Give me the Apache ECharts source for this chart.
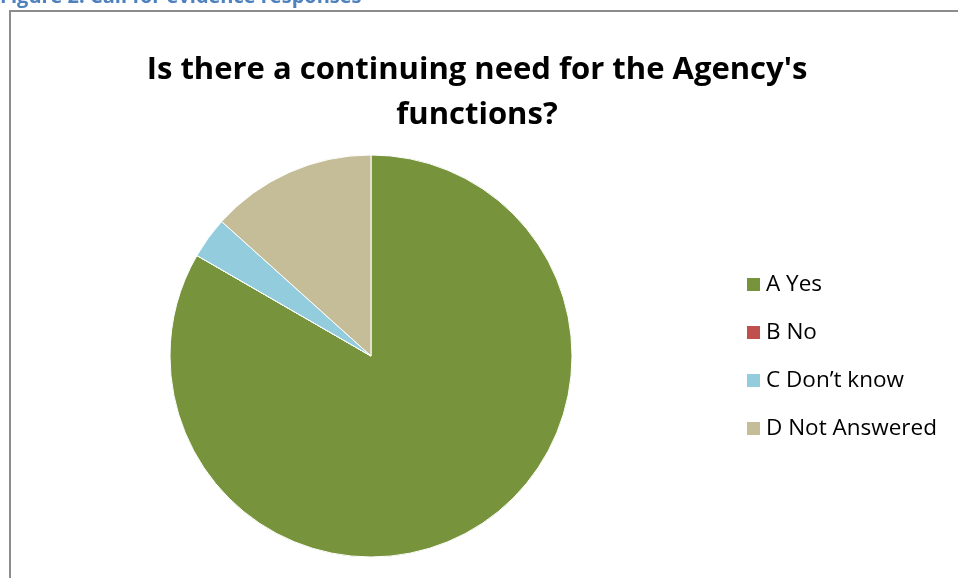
<!DOCTYPE html>
<html><head><meta charset="utf-8">
<script src="https://cdn.jsdelivr.net/npm/echarts@6/dist/echarts.min.js"></script>
<style>html,body{margin:0;padding:0;background:#fff;}#c{width:958px;height:578px;}</style>
</head><body><div id="c"></div>
<script>
const categories = ['A Yes', 'B No', 'C Don\u2019t know', 'D Not Answered'];
const values = [25, 0, 1, 4];
const colors = ['#77933C', '#C0504D', '#93CDDD', '#C4BD97'];
const titleText = "Is there a continuing need for the Agency's\nfunctions?";
const captionText = 'Figure 2: Call for evidence responses';

const chart = echarts.init(document.getElementById('c'));
chart.setOption({
  animation: false,
  color: colors,
  title: {
    text: titleText,
    left: 477, top: 48, textAlign: 'center', padding: 0,
    textStyle: { fontFamily: 'Open Sans', fontWeight: 'bold', fontSize: 31, lineHeight: 45, color: '#000' }
  },
  graphic: [
    { type: 'rect', shape: { x: 10, y: 11, width: 960, height: 580 }, style: { fill: 'none', stroke: '#8c8c8c', lineWidth: 2 } },
    { type: 'text', x: 0, y: -13, style: { text: captionText, font: 'bold 20px "Open Sans"', fill: '#4F81BD', verticalAlign: 'top' } }
  ],
  legend: {
    orient: 'vertical', left: 745, top: 273, padding: 0,
    itemWidth: 15, itemHeight: 15, itemGap: 25, icon: 'rect',
    textStyle: { fontFamily: 'Open Sans', fontSize: 22.5, lineHeight: 23, color: '#000', padding: [0,0,0,0] },
    data: categories
  },
  series: [{
    type: 'pie',
    center: [371, 356], radius: 201,
    startAngle: 90, clockwise: true,
    label: { show: false }, labelLine: { show: false },
    itemStyle: { borderColor: '#fff', borderWidth: 1 },
    emphasis: { disabled: true },
    data: categories.map((n, i) => ({ name: n, value: values[i] }))
  }]
});
</script></body></html>
